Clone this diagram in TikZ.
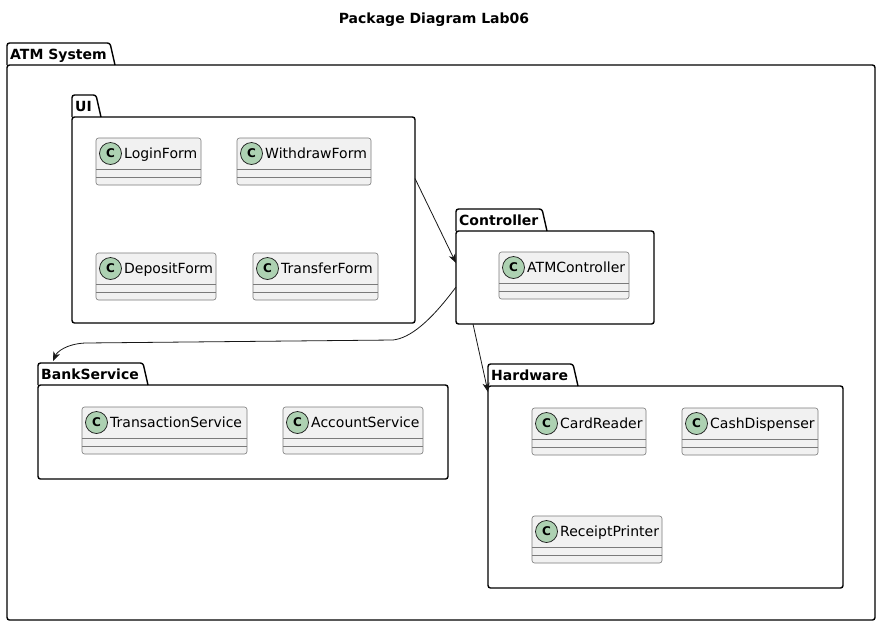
\documentclass[tikz,border=0pt]{standalone}
\usepackage{fontspec}
\setmainfont{DejaVu Sans}
\definecolor{clsfill}{HTML}{F1F1F1}
\definecolor{clsborder}{HTML}{7A7A7A}
\definecolor{spotgreen}{HTML}{ADD1B2}
\definecolor{inkline}{HTML}{181818}
\usetikzlibrary{arrows.meta,calc}

% package: name, label, left x, tab top y, tab right x, right x, bottom y
\newcommand{\umlpkg}[7]{%
  \draw[pkgline, rounded corners=2.5pt] (#3,#4+22) -- (#3,#4) -- (#5,#4) -- (#5+5,#4+22);
  \node[pkgbody, minimum width={(#6-#3)*1pt}, minimum height={(#7-#4-22)*1pt}]
    (#1) at (#3,#4+22) {};
  \node[pkglabel] (#1-lbl) at (#3+3,#4+16) {#2};
}
% class: name, label, left x, top y, width
\newcommand{\umlclass}[5]{%
  \node[clsbox, minimum width=#5pt] (#1) at (#3,#4) {};
  \draw[clsline] ([yshift=-31pt]#1.north west) -- ([yshift=-31pt]#1.north east)
    ([yshift=-39pt]#1.north west) -- ([yshift=-39pt]#1.north east);
  \node[clsspot] (#1-c) at (#3+14.5,#4+15.5) {C};
  \node[clsname] (#1-t) at (#3+28,#4+20) {#2};
}

\begin{document}
\begin{tikzpicture}[
  x=1pt, y=-1pt,
  pkgline/.style={draw=black, line width=1.4pt},
  pkgbody/.style={pkgline, rectangle, rounded corners=2.5pt, anchor=north west,
    inner sep=0pt, outer sep=0pt},
  pkglabel/.style={anchor=base west, inner sep=0pt,
    font=\fontsize{14pt}{16pt}\selectfont\bfseries},
  clsbox/.style={rectangle, draw=clsborder, fill=clsfill, line width=0.6pt,
    rounded corners=2.5pt, anchor=north west, minimum height=47pt,
    inner sep=0pt, outer sep=0pt},
  clsline/.style={draw=clsborder, line width=0.6pt},
  clsspot/.style={circle, draw=inkline, fill=spotgreen, line width=0.7pt,
    minimum size=22pt, inner sep=0pt, font=\fontsize{12pt}{14pt}\selectfont\bfseries},
  clsname/.style={anchor=base west, inner sep=0pt,
    font=\fontsize{14pt}{16pt}\selectfont},
  dep/.style={-{Stealth[length=9pt, width=7pt, inset=2.5pt]}, inkline, line width=0.8pt},
]
  \fill[white] (0,0) rectangle (881,625);

  \node[anchor=base, inner sep=0pt, font=\fontsize{14pt}{16pt}\selectfont\bfseries]
    (title) at (434,23.3) {Package Diagram Lab06};

  \umlpkg{atm}{ATM System}{7}{43}{110}{875}{620}
  \umlpkg{ui}{UI}{72}{95}{96}{415}{323}
  \umlpkg{ctrl}{Controller}{456}{209}{542}{654}{324}
  \umlpkg{bank}{BankService}{38}{363}{143}{448}{479}
  \umlpkg{hw}{Hardware}{488}{364}{573}{843}{588}

  \umlclass{login}{LoginForm}{96}{138}{105}
  \umlclass{withdraw}{WithdrawForm}{237}{138}{134}
  \umlclass{deposit}{DepositForm}{96}{253}{120}
  \umlclass{transfer}{TransferForm}{253}{253}{125}
  \umlclass{atmctrl}{ATMController}{499}{252}{130}
  \umlclass{transaction}{TransactionService}{82}{407}{165}
  \umlclass{account}{AccountService}{283}{407}{140}
  \umlclass{cardreader}{CardReader}{532}{408}{114}
  \umlclass{cashdisp}{CashDispenser}{682}{408}{136}
  \umlclass{receipt}{ReceiptPrinter}{532}{516}{130}

  \draw[dep] ([yshift=41.5pt]ui.east) -- ([yshift=14.5pt]ctrl.west);
  \draw[dep] ([yshift=-9.5pt]ctrl.west) .. controls (430,322) and (410,338) .. (393,340)
    -- (85,343) .. controls (66,344) and (57,352) .. ([shift={(15pt,24pt)}]bank.north west);
  \draw[dep] ([xshift=17pt]ctrl.south west) -- ([yshift=-6pt]hw.north west);
\end{tikzpicture}
\end{document}
